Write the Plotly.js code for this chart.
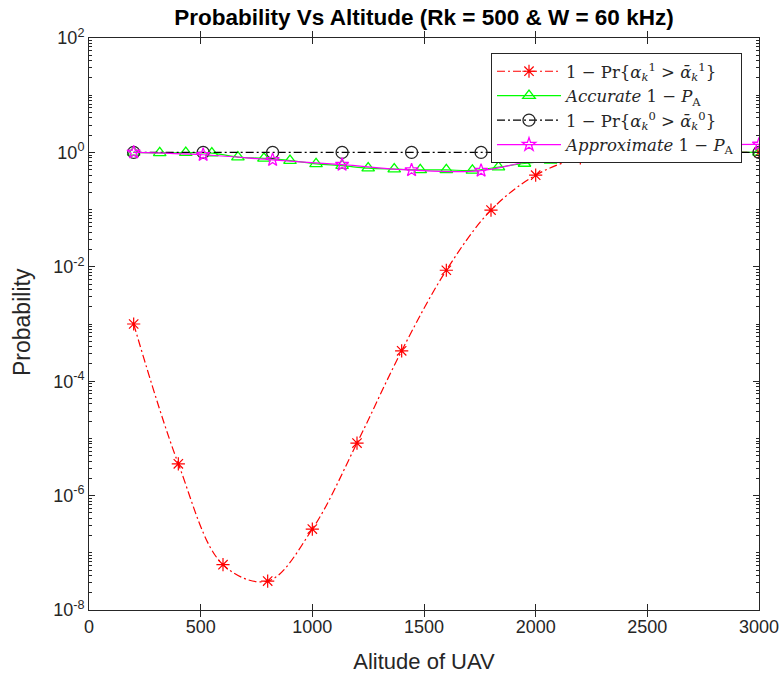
<!DOCTYPE html>
<html>
<head>
<meta charset="utf-8">
<script src="https://cdn.plot.ly/plotly-3.0.1.min.js"></script>
<style>html,body{margin:0;padding:0;background:#fff;}#chart{width:784px;height:684px;}</style>
</head>
<body>
<div id="chart"></div>
<script>
// Red: 1 - Pr{alpha_k^1 > alpha_bar_k^1}
const xRed = [200, 400, 600, 800, 1000, 1200, 1400, 1600, 1800, 2000, 2200, 2400, 2600, 2800, 3000];
const yRed = [1.0e-3, 3.6e-6, 6.2e-8, 3.2e-8, 2.6e-7, 8.3e-6, 3.4e-4, 8.7e-3, 0.098, 0.40, 0.80, 0.93, 0.98, 1.0, 1.0];

// Green: Accurate 1 - P_A
const xAcc = [200, 316.7, 433.3, 550, 666.7, 783.3, 900, 1016.7, 1133.3, 1250, 1366.7, 1483.3, 1600,
              1716.7, 1833.3, 1950, 2066.7, 2183.3, 2300, 2416.7, 2533.3, 2650, 2766.7, 2883.3, 3000];
const yAcc = [1.0, 0.98, 0.99, 0.97, 0.83, 0.785, 0.72, 0.63, 0.585, 0.53, 0.51, 0.494, 0.494,
              0.484, 0.553, 0.64, 0.725, 0.82, 0.9, 0.95, 0.98, 0.99, 1.0, 1.0, 1.0];

// Black: 1 - Pr{alpha_k^0 > alpha_bar_k^0}
const xBlk = [200, 511.1, 822.2, 1133.3, 1444.4, 1755.6, 2066.7, 2377.8, 2688.9, 3000];
const yBlk = [1.0, 1.0, 1.0, 1.0, 1.0, 1.0, 1.0, 1.0, 1.0, 1.0];

// Magenta: Approximate 1 - P_A
const xApp = [200, 511.1, 822.2, 1133.3, 1444.4, 1755.6, 2066.7, 2377.8, 2688.9, 3000];
const yApp = [1.0, 0.91, 0.74, 0.61, 0.49, 0.48, 0.85, 1.15, 1.34, 1.38];

const xTicks = [0, 500, 1000, 1500, 2000, 2500, 3000];
const yTickExp = [-8, -6, -4, -2, 0, 2];

const names = [
  '1 − Pr{<i>α</i><sub><i>k</i></sub><sup>1</sup> &gt; <i>ᾱ</i><sub><i>k</i></sub><sup>1</sup>}',
  '<i>Accurate</i> 1 − <i>P</i><sub>A</sub>',
  '1 − Pr{<i>α</i><sub><i>k</i></sub><sup>0</sup> &gt; <i>ᾱ</i><sub><i>k</i></sub><sup>0</sup>}',
  '<i>Approximate</i> 1 − <i>P</i><sub>A</sub>'
];

// minor log tick positions (axis decoration)
const minorVals = [];
for (let e = -8; e < 2; e++) {
  for (let m = 1; m <= 9; m++) {
    if (m === 1 && e % 2 === 0) continue;
    minorVals.push(m * Math.pow(10, e));
  }
}

const traces = [
  {x: xRed, y: yRed, name: names[0], type: 'scatter', mode: 'lines+markers',
   line: {color: '#ff0000', width: 1.2, dash: '8px,3px,2px,3px', shape: 'spline'},
   marker: {symbol: 'asterisk-open', size: 11, color: '#ff0000', line: {color: '#ff0000', width: 1.2}}},
  {x: xAcc, y: yAcc, name: names[1], type: 'scatter', mode: 'lines+markers',
   line: {color: '#00ff00', width: 1.2, shape: 'spline'},
   marker: {symbol: 'triangle-up-open', size: 11, color: '#00ff00', line: {color: '#00ff00', width: 1.3}}},
  {x: xBlk, y: yBlk, name: names[2], type: 'scatter', mode: 'lines+markers',
   line: {color: '#000000', width: 1.2, dash: '8px,3px,2px,3px'},
   marker: {symbol: 'circle-open', size: 12, color: '#262626', line: {color: '#262626', width: 1.3}}},
  {x: xApp, y: yApp, name: names[3], type: 'scatter', mode: 'lines+markers',
   line: {color: '#ff00ff', width: 1.2, shape: 'spline'},
   marker: {symbol: 'star-open', size: 10, color: '#ff00ff', line: {color: '#ff00ff', width: 1.3}}},
  {x: [], y: [], yaxis: 'y2', showlegend: false, hoverinfo: 'skip', type: 'scatter', mode: 'lines'}
];

const axisFont = {family: 'Arial, Liberation Sans, sans-serif', size: 18, color: '#262626'};

const layout = {
  width: 784, height: 684,
  margin: {l: 89, r: 25, t: 38, b: 74},
  paper_bgcolor: '#ffffff', plot_bgcolor: '#ffffff',
  showlegend: true,
  title: {text: '<b>Probability Vs Altitude (Rk = 500 &amp; W = 60 kHz)</b>',
          font: {family: 'Arial, Liberation Sans, sans-serif', size: 22.5, color: '#000000'},
          x: 0.5, xref: 'paper', y: 1 - 17/684, yref: 'container', yanchor: 'middle'},
  xaxis: {
    range: [0, 3000], tickvals: xTicks, ticktext: xTicks.map(String),
    ticks: 'inside', ticklen: 6, tickcolor: '#262626', tickwidth: 1,
    showline: true, linecolor: '#262626', linewidth: 1, mirror: 'allticks',
    showgrid: false, zeroline: false, tickfont: axisFont,
    title: {text: 'Alitude of UAV', font: {family: 'Arial, Liberation Sans, sans-serif', size: 22, color: '#262626'}, standoff: 18}
  },
  yaxis: {
    type: 'log', range: [-8, 2],
    tickvals: yTickExp.map(e => Math.pow(10, e)),
    ticktext: yTickExp.map(e => '10<sup>' + e + '</sup>'),
    ticks: 'inside', ticklen: 6, tickcolor: '#262626', tickwidth: 1,
    showline: true, linecolor: '#262626', linewidth: 1, mirror: 'allticks',
    showgrid: false, zeroline: false, tickfont: axisFont
  },
  yaxis2: {
    type: 'log', range: [-8, 2], overlaying: 'y', side: 'left',
    tickvals: minorVals, showticklabels: false,
    ticks: 'inside', ticklen: 3, tickcolor: '#262626', tickwidth: 1,
    showline: true, linecolor: '#262626', linewidth: 1, mirror: 'allticks',
    showgrid: false, zeroline: false
  },
  annotations: [{
    text: 'Probability', textangle: -90, showarrow: false,
    xref: 'paper', x: (22 - 89) / 670, xanchor: 'center',
    yref: 'paper', y: (610 - 322) / 572, yanchor: 'middle',
    font: {family: 'Arial, Liberation Sans, sans-serif', size: 23, color: '#262626'}
  }],
  legend: {
    x: (742 - 89) / 670, xanchor: 'right', y: (610 - 53) / 572, yanchor: 'top',
    bgcolor: '#ffffff', bordercolor: '#262626', borderwidth: 1,
    font: {family: 'DejaVu Serif, Liberation Serif, serif', size: 16.5, color: '#262626'},
    itemwidth: 64, tracegroupgap: 0
  }
};

Plotly.newPlot('chart', traces, layout, {displayModeBar: false, staticPlot: true});
</script>
</body>
</html>
